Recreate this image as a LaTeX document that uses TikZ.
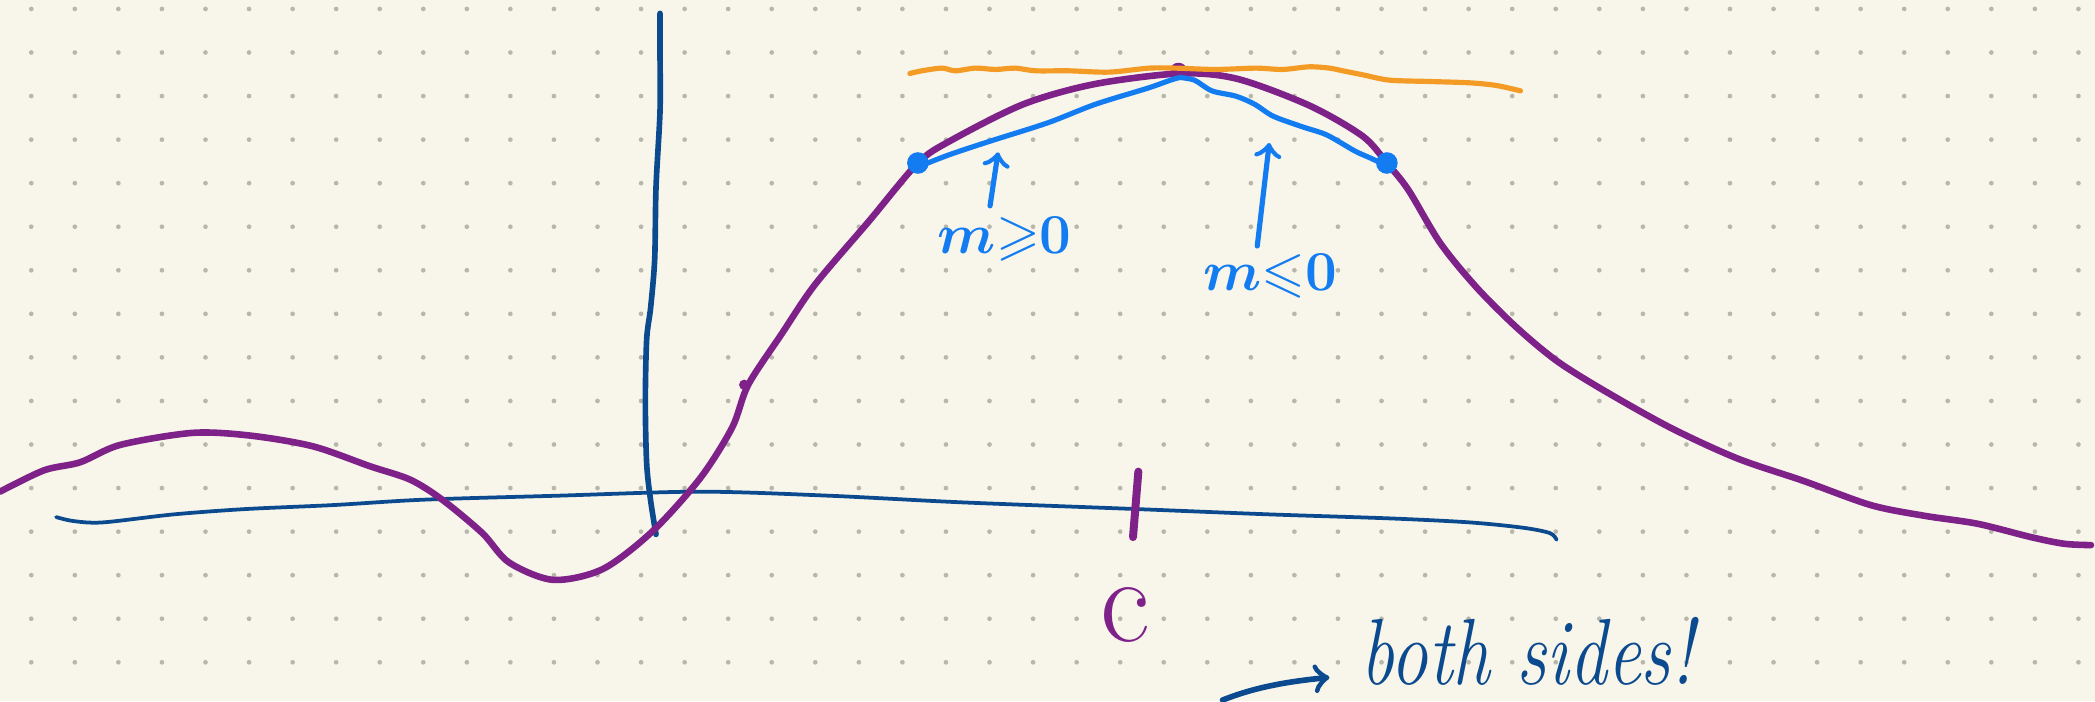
\documentclass[tikz,border=0pt]{standalone}
\usepackage{xcolor}
\usepackage{tikz}
\usepackage{amsmath,amssymb}
\definecolor{paper}{HTML}{F8F6EA}
\definecolor{dotgrey}{HTML}{B9B6AC}
\definecolor{plum}{HTML}{7E2189}
\definecolor{navy}{HTML}{0B4A8E}
\definecolor{sky}{HTML}{127CF0}
\definecolor{amber}{HTML}{F49B26}

\begin{document}
\begin{tikzpicture}[x=0.01cm,y=-0.01cm,line cap=round,line join=round]
    \useasboundingbox (0,0) rectangle (1568,525);
    \fill[paper] (0,0) rectangle (1568,525);
    \foreach \i in {0,...,47}
      \foreach \j in {0,...,15}
        \fill[dotgrey] (23.4+32.6*\i,6.7+32.6*\j) circle (0.5pt);
    % axes
    \draw[navy,line width=0.8pt] plot[smooth] coordinates {(42,387) (55,390) (77,391) (130,385) (184,381) (250,378) (317,374) (418,371) (524,368) (620,371) (720,376) (850,381) (950,385) (1040,388) (1100,391) (1140,395) (1160,399) (1165,404)};
    \draw[navy,line width=1.2pt] plot[smooth] coordinates {(494,10) (494,40) (494,83) (491,140) (490,194) (487,230) (484,254) (483,301) (484,347) (487,375) (491,400)};
    \draw[plum,line width=1.7pt] (852,353) -- (848,402);
    % the function
    \draw[plum,line width=1.4pt] plot[smooth] coordinates {(0,368) (33,352) (60,346) (90,333) (144,324) (187,326) (234,334) (277,349) (307,359) (331,374) (361,399) (381,421) (414,434) (451,426) (488,398) (524,358) (548,320) (560,288) (585,250) (610,213) (650,166) (687,122) (712,105) (766,78) (819,63) (883,55) (926,59) (980,79) (1020,102) (1038,122) (1054,142) (1078,182) (1105,215) (1135,245) (1165,270) (1200,292) (1250,320) (1300,343) (1350,360) (1400,378) (1440,386) (1480,392) (1520,402) (1545,407) (1565,408)};
    \fill[plum] (882,52) ellipse (6 and 5);
    \fill[plum] (557,288) circle (1.1pt);
    % tangent
    \draw[amber,line width=1.1pt] plot[smooth] coordinates {(681,55) (690,53) (705,51) (715,53) (730,51) (745,52) (760,51) (775,53) (800,53) (830,54) (860,51) (880,51) (910,52) (940,51) (960,52) (980,50) (995,51) (1005,53) (1020,56) (1040,60) (1070,61) (1100,62) (1120,64) (1138,68)};
    % secants
    \draw[sky,line width=1.1pt] plot[smooth] coordinates {(687,125) (710,116) (740,106) (784,92) (820,78) (859,66) (876,60) (883,58)};
    \draw[sky,line width=1.1pt] plot[smooth] coordinates {(883,58) (894,60) (907,68) (925,72) (939,78) (953,87) (975,95) (993,101) (1014,113) (1025,118) (1038,124)};
    \fill[sky] (687,122) circle (2.3pt);
    \fill[sky] (1038,122) circle (2.3pt);
    % labels
    \node[sky,font=\large\boldmath] (lblpos) at (752,179) {$m{\geqslant}0$};
    \node[sky,font=\large\boldmath] (lblneg) at (951,207) {$m{\leqslant}0$};
    \coordinate (tippos) at (747,114);
    \coordinate (tipneg) at (950,107);
    \draw[sky,line width=1.1pt,->] (lblpos.north) ++(-11,4) -- (tippos);
    \draw[sky,line width=1.1pt,->] (lblneg.north) ++(-10,6) -- (tipneg);
    \node[plum,font=\fontsize{26}{26}\selectfont] (lblc) at (842,460) {c};
    \node[navy,font=\fontsize{20}{20}\selectfont\itshape,anchor=base west,inner sep=0pt,xscale=0.8] (lblboth) at (1018,512) {both sides!};
    \coordinate (bothstart) at (915,524);
    \draw[navy,line width=1.2pt,->] (bothstart) .. controls (940,514) and (965,510) .. (995,507);
  \end{tikzpicture}
\end{document}
